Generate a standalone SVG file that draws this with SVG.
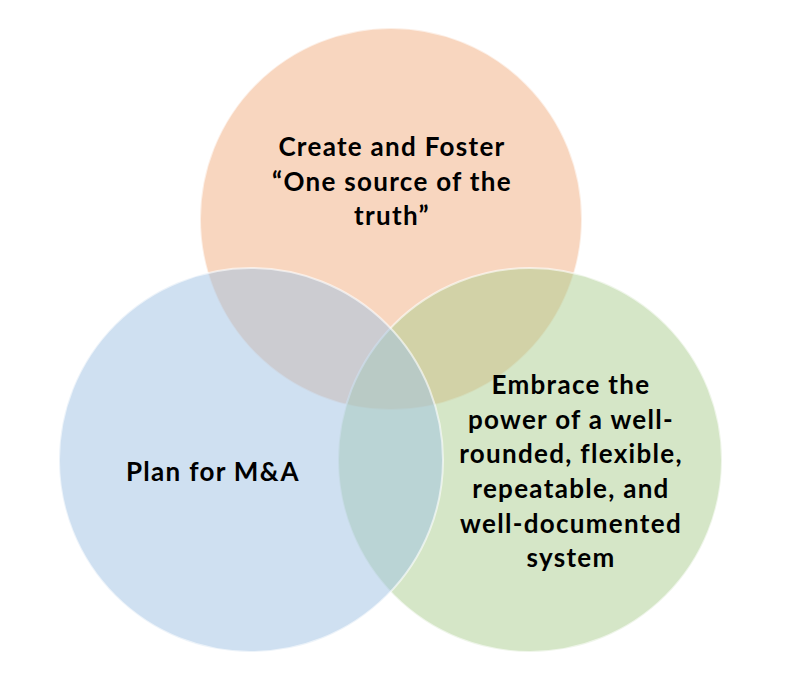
<svg xmlns="http://www.w3.org/2000/svg" width="790" height="680" viewBox="0 0 790 680">
<style>
.c{stroke:#ffffff;stroke-opacity:0.6;stroke-width:2}
.t{font-family:Lato,"Open Sans","Liberation Sans",sans-serif;font-weight:bold;font-size:26px;letter-spacing:1.3px;fill:#000;text-anchor:middle}
</style>
<rect width="790" height="680" fill="#ffffff"/>
<g id="node-top">
<circle class="c" cx="391" cy="219" r="191" fill="#F8D6BF"/>
</g>
<g id="node-right">
<circle class="c" cx="530" cy="460" r="192" fill="#ABCD8F" fill-opacity="0.5"/>
</g>
<g id="node-left">
<circle class="c" cx="251" cy="460" r="192" fill="#9FC1E3" fill-opacity="0.5"/>
</g>
<g id="labels">
<text class="t" x="392" y="156">Create and Foster</text>
<text class="t" x="392" y="191">“One source of the</text>
<text class="t" x="392" y="225">truth”</text>
<text class="t" x="213" y="481">Plan for M&amp;A</text>
<text class="t" x="571" y="394">Embrace the</text>
<text class="t" x="571" y="429">power of a well-</text>
<text class="t" x="571" y="463">rounded, flexible,</text>
<text class="t" x="571" y="498">repeatable, and</text>
<text class="t" x="571" y="533">well-documented</text>
<text class="t" x="571" y="567">system</text>
</g>
<g id="connectors"></g>
</svg>
